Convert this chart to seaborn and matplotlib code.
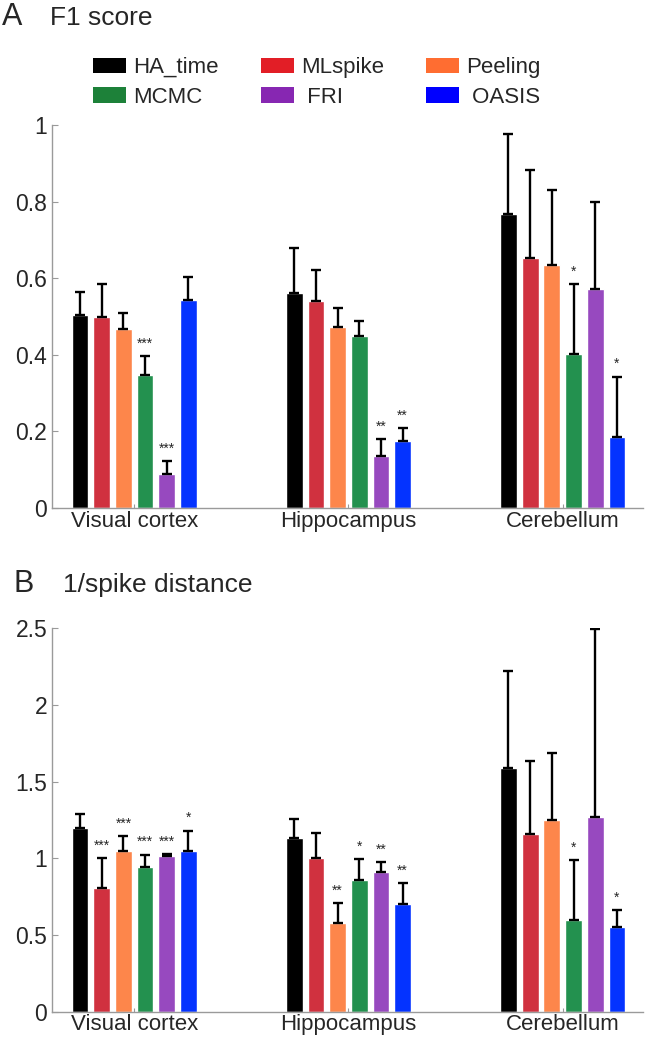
import pandas as pd
import matplotlib
matplotlib.use("Agg")
import matplotlib.pyplot as plt
import seaborn as sns
from matplotlib.patches import Patch

# data
regions = ['Visual cortex', 'Hippocampus', 'Cerebellum']
methods = ['HA_time', 'MLspike', 'Peeling', 'MCMC', 'FRI', 'OASIS']
legend_labels = ['HA_time', 'MLspike', 'Peeling', 'MCMC', ' FRI', ' OASIS']

bar_colors = ['#000000', '#D0313F', '#FD864B', '#23914F', '#9749BF', '#0433FF']
legend_colors = ['#000000', '#E21E26', '#FF6D31', '#1D8139', '#8727B2', '#0000FF']

# F1 score (mean, upper error) per method, one value per region
f1_mean = {
    'HA_time': [0.503, 0.562, 0.767],
    'MLspike': [0.499, 0.540, 0.652],
    'Peeling': [0.468, 0.473, 0.634],
    'MCMC':    [0.347, 0.450, 0.401],
    'FRI':     [0.088, 0.135, 0.573],
    'OASIS':   [0.543, 0.176, 0.185],
}
f1_err = {
    'HA_time': [0.060, 0.118, 0.210],
    'MLspike': [0.085, 0.081, 0.231],
    'Peeling': [0.040, 0.050, 0.197],
    'MCMC':    [0.049, 0.039, 0.184],
    'FRI':     [0.034, 0.045, 0.227],
    'OASIS':   [0.061, 0.032, 0.158],
}
f1_stars = {
    'HA_time': ['', '', ''],
    'MLspike': ['', '', ''],
    'Peeling': ['', '', ''],
    'MCMC':    ['***', '', '*'],
    'FRI':     ['***', '**', ''],
    'OASIS':   ['', '**', '*'],
}

# 1/spike distance
sd_mean = {
    'HA_time': [1.200, 1.135, 1.591],
    'MLspike': [0.807, 1.000, 1.157],
    'Peeling': [1.050, 0.580, 1.252],
    'MCMC':    [0.946, 0.857, 0.600],
    'FRI':     [1.017, 0.911, 1.267],
    'OASIS':   [1.048, 0.704, 0.554],
}
sd_err = {
    'HA_time': [0.087, 0.119, 0.633],
    'MLspike': [0.193, 0.167, 0.478],
    'Peeling': [0.093, 0.129, 0.437],
    'MCMC':    [0.078, 0.139, 0.389],
    'FRI':     [0.009, 0.063, 1.226],
    'OASIS':   [0.132, 0.133, 0.107],
}
sd_stars = {
    'HA_time': ['', '', ''],
    'MLspike': ['***', '', ''],
    'Peeling': ['***', '**', ''],
    'MCMC':    ['***', '*', '*'],
    'FRI':     ['***', '**', ''],
    'OASIS':   ['*', '**', '*'],
}

f1_ticks = [0, 0.2, 0.4, 0.6, 0.8, 1]
f1_ticklabels = ['0', '0.2', '0.4', '0.6', '0.8', '1']
sd_ticks = [0, 0.5, 1, 1.5, 2, 2.5]
sd_ticklabels = ['0', '0.5', '1', '1.5', '2', '2.5']

sns.set_style('white')
plt.rcParams['font.family'] = ['Liberation Sans', 'DejaVu Sans']

fig = plt.figure(figsize=(6.45, 10.39), dpi=100)
axA = fig.add_axes([0.0806, 0.5111, 0.9163, 0.3686])
axB = fig.add_axes([0.0806, 0.0263, 0.9163, 0.3690])


def long_table(mean, err, stars):
    rows = []
    for m in methods:
        for i, r in enumerate(regions):
            rows.append({'region': r, 'method': m, 'value': mean[m][i],
                         'err': err[m][i], 'stars': stars[m][i]})
    return pd.DataFrame(rows)


def draw_panel(ax, df, ticks, ticklabels):
    sns.barplot(data=df, x='region', y='value', hue='method', order=regions,
                hue_order=methods, palette=bar_colors, saturation=1,
                width=0.607, gap=0.23, errorbar=None, legend=False, ax=ax)
    # upper error bars and significance stars
    for m, cont in zip(methods, ax.containers):
        sub = df[df['method'] == m].set_index('region').loc[regions]
        for bar, (_, row) in zip(cont, sub.iterrows()):
            xc = bar.get_x() + bar.get_width() / 2
            top = bar.get_height()
            ax.errorbar(xc, top, yerr=[[0], [row['err']]], color='black',
                        elinewidth=1.7, capsize=3.5, capthick=1.7, zorder=5)
            if row['stars']:
                ax.annotate(row['stars'], (xc, top + row['err']),
                            xytext=(0, 4), textcoords='offset points',
                            ha='center', va='bottom', fontsize=10)
    ax.set_xlim(-0.384, 2.375)
    ax.set_ylim(ticks[0], ticks[-1])
    ax.set_yticks(ticks)
    ax.set_yticklabels(ticklabels)
    ax.set_xlabel('')
    ax.set_ylabel('')
    for s in ['top', 'right']:
        ax.spines[s].set_visible(False)
    for s in ['left', 'bottom']:
        ax.spines[s].set_color('#9A9A9A')
        ax.spines[s].set_linewidth(1.0)
    ax.tick_params(axis='y', direction='in', length=4, color='#9A9A9A',
                   labelsize=16.5, pad=3.5, left=True)
    ax.tick_params(axis='x', direction='in', length=3, color='#9A9A9A',
                   labelsize=16, pad=2, bottom=True)


draw_panel(axA, long_table(f1_mean, f1_err, f1_stars), f1_ticks, f1_ticklabels)
draw_panel(axB, long_table(sd_mean, sd_err, sd_stars), sd_ticks, sd_ticklabels)

# legend, filled row-wise
order = [0, 3, 1, 4, 2, 5]
handles = [Patch(facecolor=legend_colors[i], edgecolor='none') for i in order]
labels = [legend_labels[i] for i in order]
fig.legend(handles, labels, ncol=3, frameon=False, loc='upper left',
           bbox_to_anchor=(93 / 645, 1 - 57 / 1039), fontsize=16,
           handlelength=1.5, handleheight=0.68, handletextpad=0.3,
           columnspacing=1.9, labelspacing=0.4, borderpad=0, borderaxespad=0)

# panel titles
fig.text(2 / 645, 1 - 25 / 1039, 'A', fontsize=22, va='baseline')
fig.text(50 / 645, 1 - 25 / 1039, 'F1 score', fontsize=19, va='baseline')
fig.text(13 / 645, 1 - 592 / 1039, 'B', fontsize=22, va='baseline')
fig.text(63 / 645, 1 - 592 / 1039, '1/spike distance', fontsize=19, va='baseline')

plt.savefig('out.png', dpi=100)
